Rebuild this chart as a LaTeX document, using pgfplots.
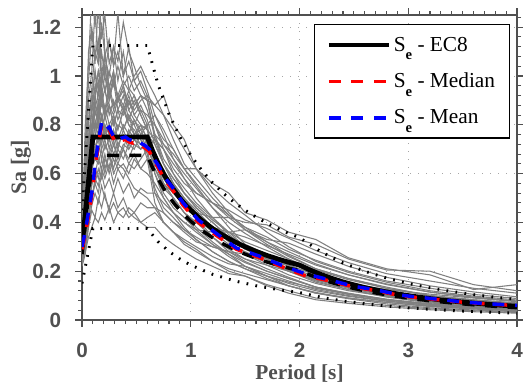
\documentclass[border=0pt]{standalone}
\usepackage{fontspec}
\setmainfont{Liberation Serif}
\newfontfamily\ticksans{Liberation Sans}
\usepackage{pgfplots}
\usepackage{pgfplotstable}
\pgfplotsset{compat=1.18}
\definecolor{axgray}{RGB}{80,80,80}
\definecolor{curvegray}{RGB}{128,128,128}
\newcommand{\Se}{S\raisebox{-6.5pt}{\fontsize{11}{11}\selectfont\bfseries e}}

\pgfplotstableread{
T c1 c2 c3 c4 c5 c6 c7 c8 c9 c10 c11 c12 c13 c14 c15 c16 c17 c18 c19 c20 c21 c22 c23 c24 c25 c26 c27 c28 c29 c30 c31 c32 c33 c34
0.00 0.34 0.32 0.30 0.31 0.29 0.28 0.27 0.26 0.24 0.22 0.28 0.29 0.27 0.25 0.30 0.25 0.23 0.31 0.26 0.28 0.33 0.26 0.30 0.24 0.31 0.27 0.30 0.28 0.29 0.25 0.27 0.32 0.26 0.28
0.03 0.80 0.55 0.58 0.50 0.45 0.42 0.38 0.35 0.30 0.27 0.44 0.40 0.41 0.36 0.52 0.33 0.29 0.50 0.37 0.43 0.66 0.34 0.46 0.28 0.55 0.40 0.48 0.42 0.50 0.32 0.44 0.70 0.36 0.45
0.06 1.05 0.82 0.90 0.70 0.62 0.58 0.52 0.48 0.44 0.38 0.63 0.66 0.55 0.50 0.75 0.45 0.40 0.72 0.52 0.60 0.98 0.46 0.66 0.34 0.80 0.55 0.70 0.60 0.68 0.42 0.62 1.10 0.52 0.66
0.09 1.35 0.95 1.02 0.88 0.74 0.72 0.60 0.58 0.50 0.45 0.70 0.80 0.66 0.62 0.85 0.50 0.47 0.86 0.64 0.68 1.18 0.55 0.78 0.38 0.92 0.62 0.88 0.74 0.80 0.50 0.76 1.20 0.62 0.80
0.12 1.20 1.10 1.28 0.95 0.86 0.74 0.72 0.60 0.56 0.42 0.80 0.78 0.75 0.66 0.92 0.58 0.52 0.96 0.70 0.82 1.05 0.62 0.90 0.42 1.02 0.70 1.02 0.86 0.92 0.56 0.88 1.08 0.70 0.92
0.15 1.40 1.05 1.05 1.02 0.80 0.86 0.68 0.66 0.52 0.50 0.76 0.90 0.82 0.64 0.98 0.55 0.48 0.92 0.76 0.78 1.30 0.58 0.82 0.40 0.88 0.74 0.94 0.80 1.02 0.62 0.84 1.15 0.76 0.86
0.18 1.15 1.22 1.38 0.92 0.90 0.78 0.76 0.62 0.60 0.46 0.84 0.82 0.74 0.70 0.88 0.62 0.55 1.02 0.70 0.84 1.00 0.66 0.95 0.44 0.96 0.66 1.10 0.92 0.96 0.58 0.94 0.98 0.72 1.00
0.21 1.25 1.08 1.10 1.00 0.82 0.84 0.70 0.68 0.54 0.52 0.78 0.88 0.80 0.62 0.95 0.58 0.50 0.94 0.74 0.76 1.10 0.60 0.84 0.41 1.05 0.72 1.00 0.84 1.08 0.66 0.86 1.04 0.80 0.94
0.25 1.05 1.15 0.95 0.90 0.88 0.76 0.74 0.60 0.58 0.44 0.74 0.80 0.70 0.68 0.84 0.64 0.46 0.88 0.66 0.80 0.95 0.68 0.88 0.46 0.90 0.68 1.14 0.94 1.00 0.62 0.96 0.92 0.76 1.02
0.29 1.12 1.05 1.02 0.98 0.80 0.82 0.68 0.66 0.52 0.48 0.76 0.84 0.78 0.60 0.90 0.56 0.52 0.84 0.72 0.74 1.02 0.62 0.80 0.40 0.98 0.74 1.04 0.86 1.12 0.68 0.88 1.00 0.84 0.96
0.33 0.98 1.26 0.90 0.92 0.86 0.74 0.72 0.62 0.58 0.44 0.70 0.78 0.72 0.64 0.82 0.62 0.46 0.90 0.66 0.80 0.90 0.70 0.86 0.44 0.86 0.66 1.10 0.92 1.06 0.64 0.92 0.90 0.78 1.04
0.38 1.10 1.00 0.96 0.98 0.84 0.80 0.70 0.64 0.52 0.46 0.78 0.86 0.76 0.62 0.88 0.58 0.50 0.86 0.70 0.78 0.96 0.66 0.78 0.42 0.92 0.72 1.00 0.88 1.22 0.70 0.86 0.94 0.86 0.96
0.43 0.95 1.12 0.86 0.94 0.90 0.76 0.78 0.60 0.56 0.42 0.72 0.80 0.70 0.58 0.80 0.64 0.44 0.92 0.64 0.84 0.88 0.72 0.84 0.46 0.82 0.70 1.06 0.94 1.10 0.66 0.90 0.86 0.82 1.00
0.48 0.92 0.98 0.82 1.00 0.86 0.82 0.74 0.66 0.50 0.44 0.76 0.76 0.74 0.54 0.78 0.62 0.42 0.84 0.68 0.80 0.92 0.70 0.76 0.44 0.80 0.74 0.98 0.88 1.04 0.72 0.84 0.90 0.88 0.94
0.54 0.86 0.92 0.76 1.04 0.90 0.78 0.80 0.62 0.54 0.40 0.72 0.78 0.70 0.52 0.74 0.66 0.40 0.88 0.62 0.86 0.84 0.76 0.80 0.48 0.74 0.72 1.02 0.92 0.96 0.70 0.80 0.84 0.92 0.98
0.60 0.80 0.90 0.70 0.98 0.92 0.80 0.78 0.66 0.52 0.42 0.70 0.72 0.74 0.50 0.68 0.70 0.38 0.82 0.60 0.84 0.78 0.80 0.74 0.46 0.66 0.76 0.94 0.86 0.90 0.74 0.74 0.78 0.90 0.92
0.67 0.62 0.76 0.54 0.92 0.88 0.80 0.74 0.64 0.52 0.44 0.64 0.62 0.68 0.46 0.52 0.74 0.38 0.72 0.56 0.80 0.66 0.84 0.60 0.46 0.48 0.72 0.84 0.76 0.74 0.76 0.60 0.66 0.88 0.80
0.75 0.54 0.66 0.46 0.84 0.92 0.74 0.70 0.56 0.48 0.40 0.58 0.56 0.60 0.40 0.44 0.70 0.34 0.64 0.50 0.72 0.58 0.78 0.52 0.44 0.40 0.64 0.76 0.64 0.64 0.72 0.50 0.56 0.84 0.70
0.84 0.50 0.60 0.42 0.74 0.80 0.70 0.62 0.52 0.44 0.36 0.52 0.50 0.56 0.36 0.40 0.64 0.31 0.58 0.44 0.66 0.52 0.70 0.46 0.40 0.36 0.58 0.66 0.56 0.56 0.68 0.44 0.50 0.78 0.60
0.94 0.44 0.54 0.37 0.64 0.74 0.62 0.56 0.48 0.40 0.32 0.47 0.44 0.50 0.33 0.36 0.58 0.28 0.52 0.40 0.60 0.47 0.62 0.42 0.37 0.31 0.52 0.58 0.50 0.48 0.62 0.38 0.44 0.70 0.52
1.05 0.40 0.48 0.33 0.58 0.62 0.62 0.52 0.44 0.36 0.29 0.42 0.40 0.45 0.30 0.32 0.52 0.25 0.47 0.37 0.54 0.42 0.55 0.37 0.34 0.28 0.46 0.50 0.44 0.42 0.56 0.33 0.38 0.62 0.46
1.20 0.34 0.42 0.28 0.50 0.54 0.56 0.48 0.42 0.31 0.24 0.37 0.38 0.38 0.26 0.30 0.48 0.22 0.41 0.36 0.46 0.36 0.46 0.31 0.30 0.24 0.40 0.42 0.38 0.34 0.48 0.28 0.32 0.52 0.40
1.35 0.29 0.36 0.24 0.43 0.48 0.52 0.45 0.42 0.26 0.20 0.33 0.36 0.32 0.23 0.28 0.43 0.19 0.36 0.36 0.38 0.31 0.40 0.27 0.28 0.21 0.34 0.35 0.33 0.28 0.42 0.24 0.27 0.44 0.34
1.50 0.25 0.30 0.21 0.38 0.43 0.44 0.41 0.40 0.22 0.18 0.295 0.34 0.27 0.22 0.27 0.38 0.18 0.32 0.37 0.31 0.28 0.355 0.235 0.25 0.19 0.295 0.30 0.30 0.24 0.37 0.21 0.22 0.37 0.29
1.70 0.21 0.25 0.17 0.32 0.36 0.41 0.375 0.39 0.18 0.14 0.26 0.305 0.225 0.19 0.235 0.34 0.145 0.285 0.33 0.27 0.24 0.30 0.20 0.225 0.165 0.255 0.25 0.26 0.20 0.32 0.18 0.18 0.31 0.25
1.90 0.175 0.21 0.14 0.265 0.30 0.36 0.335 0.34 0.14 0.11 0.225 0.27 0.185 0.16 0.20 0.29 0.12 0.25 0.315 0.20 0.20 0.25 0.17 0.20 0.14 0.22 0.205 0.225 0.17 0.28 0.155 0.15 0.26 0.21
2.15 0.135 0.165 0.11 0.21 0.24 0.33 0.285 0.31 0.11 0.083 0.185 0.225 0.15 0.125 0.165 0.245 0.09 0.205 0.27 0.155 0.16 0.195 0.135 0.17 0.113 0.175 0.165 0.185 0.135 0.23 0.13 0.12 0.21 0.17
2.45 0.11 0.135 0.09 0.17 0.195 0.255 0.235 0.25 0.087 0.068 0.15 0.185 0.12 0.10 0.135 0.20 0.075 0.165 0.22 0.125 0.125 0.152 0.105 0.15 0.09 0.135 0.13 0.15 0.108 0.185 0.105 0.097 0.17 0.135
2.80 0.085 0.108 0.072 0.135 0.155 0.21 0.19 0.205 0.066 0.054 0.12 0.148 0.096 0.078 0.108 0.16 0.06 0.13 0.175 0.097 0.094 0.116 0.082 0.125 0.072 0.102 0.10 0.118 0.085 0.145 0.082 0.077 0.13 0.106
3.20 0.064 0.083 0.055 0.10 0.12 0.185 0.16 0.20 0.05 0.042 0.092 0.115 0.074 0.06 0.083 0.13 0.046 0.10 0.14 0.074 0.07 0.088 0.064 0.106 0.057 0.078 0.078 0.092 0.067 0.114 0.064 0.06 0.10 0.083
3.60 0.053 0.068 0.045 0.083 0.098 0.125 0.13 0.145 0.041 0.034 0.075 0.094 0.06 0.049 0.068 0.105 0.038 0.083 0.115 0.06 0.056 0.071 0.052 0.09 0.046 0.064 0.064 0.075 0.055 0.092 0.052 0.049 0.08 0.068
4.00 0.044 0.056 0.037 0.07 0.082 0.145 0.11 0.12 0.034 0.028 0.062 0.078 0.05 0.04 0.056 0.088 0.031 0.068 0.095 0.05 0.046 0.058 0.043 0.075 0.038 0.053 0.053 0.062 0.045 0.077 0.043 0.04 0.066 0.056
}\grays

\begin{document}
\begin{tikzpicture}
\useasboundingbox (0,0) rectangle (392.25pt,287.25pt);
\begin{axis}[
  at={(61.5pt,47.25pt)}, anchor=south west,
  scale only axis, width=326.25pt, height=228.75pt,
  xmin=0, xmax=4, ymin=0, ymax=1.25,
  xtick={0,1,2,3,4}, xticklabels={0,1,2,3,4},
  ytick={0,0.2,0.4,0.6,0.8,1,1.2}, yticklabels={0,0.2,0.4,0.6,0.8,1,1.2},
  minor xtick={0,0.1,...,4.01},
  minor ytick={0,0.04,...,1.25},
  xtick pos=both, ytick pos=both,
  xticklabel pos=bottom, yticklabel pos=left,
  tick align=outside,
  major tick length=5pt, minor tick length=3pt,
  every tick/.style={line width=0.8pt, draw=axgray},
  axis line style={line width=1pt, draw=axgray},
  grid=major,
  major grid style={line width=0.7pt, draw=gray!70, dash pattern=on 0.7pt off 5.3pt},
  xticklabel style={font=\ticksans\bfseries\fontsize{15.5}{16}\selectfont, text=axgray, inner sep=0pt, anchor=north},
  yticklabel style={font=\ticksans\bfseries\fontsize{15.5}{16}\selectfont, text=axgray, inner sep=0pt, anchor=east},
  xticklabel shift=12pt,
  yticklabel shift=10.5pt,
  xlabel={Period [s]}, ylabel={Sa [g]},
  xlabel style={font=\bfseries\fontsize{16}{18}\selectfont, text=axgray, inner sep=0pt, at={(axis description cs:0.5,0)}, anchor=center, yshift=-40.5pt},
  ylabel style={font=\bfseries\fontsize{16.5}{18}\selectfont, text=axgray, inner sep=0pt, at={(axis description cs:0,0.5)}, anchor=center, yshift=45.75pt},
  legend image code/.code={\draw[#1] (0pt,0pt) -- (45pt,0pt);},
  legend cell align=left,
  legend style={at={(rel axis cs:0.985,0.970)}, anchor=north east, draw=black, line width=1pt, fill=white,
    font=\fontsize{16}{18}\selectfont, text=black, row sep=11pt, inner xsep=9pt, inner ysep=7pt},
]
\pgfplotsinvokeforeach{1,...,34}{
  \addplot[curvegray, line width=0.8pt, forget plot] table[x=T, y=c#1] {\grays};
}
% 1.5 x EC8 and 0.5 x EC8 bounds
\addplot[black, line width=2.2pt, dash pattern=on 1.3pt off 5.5pt, forget plot] coordinates {
(0,0.45)(0.1,1.125)(0.6,1.125)(0.7,0.964)(0.8,0.844)(0.9,0.75)(1.0,0.675)(1.1,0.614)(1.2,0.5625)(1.3,0.519)(1.4,0.482)(1.5,0.45)(1.6,0.422)(1.7,0.397)(1.8,0.375)(1.9,0.355)(2.0,0.3375)(2.2,0.279)(2.4,0.234)(2.6,0.2)(2.8,0.172)(3.0,0.15)(3.2,0.132)(3.4,0.1168)(3.6,0.104)(3.8,0.0935)(4.0,0.0844)};
\addplot[black, line width=2.2pt, dash pattern=on 1.3pt off 5.5pt, forget plot] coordinates {
(0,0.15)(0.1,0.375)(0.6,0.375)(0.7,0.321)(0.8,0.281)(0.9,0.25)(1.0,0.225)(1.2,0.1875)(1.4,0.1607)(1.6,0.1406)(1.8,0.125)(2.0,0.1125)(2.2,0.093)(2.4,0.078)(2.6,0.0666)(2.8,0.0574)(3.0,0.05)(3.2,0.044)(3.4,0.0389)(3.6,0.0347)(3.8,0.0312)(4.0,0.0281)};
% 0.9 x EC8
\addplot[black, line width=2.6pt, dash pattern=on 9pt off 8pt, forget plot] coordinates {
(0,0.27)(0.1,0.675)(0.6,0.675)(0.65,0.623)(0.7,0.579)(0.75,0.54)(0.8,0.506)(0.85,0.476)(0.9,0.45)(0.95,0.426)(1.0,0.405)(1.1,0.368)(1.2,0.3375)(1.3,0.3115)(1.4,0.289)(1.5,0.27)(1.6,0.253)(1.7,0.238)(1.8,0.225)(1.9,0.213)(2.0,0.2025)(2.1,0.1837)(2.2,0.1674)(2.3,0.1531)(2.4,0.1406)(2.5,0.1296)(2.6,0.1198)(2.7,0.1111)(2.8,0.1033)(2.9,0.0963)(3.0,0.09)(3.2,0.0791)(3.4,0.0701)(3.6,0.0625)(3.8,0.0561)(4.0,0.0506)};
% EC8
\addplot[black, line width=3.6pt] coordinates {
(0,0.3)(0.1,0.75)(0.6,0.75)(0.65,0.6923)(0.7,0.643)(0.75,0.6)(0.8,0.5625)(0.85,0.5294)(0.9,0.5)(0.95,0.4737)(1.0,0.45)(1.1,0.4091)(1.2,0.375)(1.3,0.3462)(1.4,0.3214)(1.5,0.3)(1.6,0.28125)(1.7,0.2647)(1.8,0.25)(1.9,0.2368)(2.0,0.225)(2.1,0.2041)(2.2,0.186)(2.3,0.1701)(2.4,0.156)(2.5,0.144)(2.6,0.133)(2.7,0.1235)(2.8,0.115)(2.9,0.107)(3.0,0.1)(3.1,0.0937)(3.2,0.0879)(3.3,0.0826)(3.4,0.0779)(3.5,0.0735)(3.6,0.0694)(3.7,0.0657)(3.8,0.0623)(3.9,0.0592)(4.0,0.05625)};
\addlegendentry{\Se\ - EC8}
% Median
\addplot[red, line width=2.6pt, dash pattern=on 9pt off 8pt] coordinates {
(0,0.29)(0.02,0.33)(0.04,0.375)(0.07,0.455)(0.1,0.54)(0.12,0.625)(0.15,0.715)(0.18,0.795)(0.2,0.79)(0.22,0.77)(0.25,0.78)(0.27,0.76)(0.3,0.735)(0.33,0.725)(0.36,0.735)(0.4,0.74)(0.43,0.73)(0.47,0.725)(0.5,0.73)(0.54,0.715)(0.58,0.705)(0.62,0.69)(0.67,0.645)(0.7,0.625)(0.76,0.575)(0.83,0.535)(0.93,0.47)(1.07,0.40)(1.25,0.342)(1.42,0.29)(1.63,0.256)(1.85,0.216)(2.05,0.182)(2.28,0.16)(2.5,0.135)(2.71,0.12)(2.93,0.1)(3.08,0.092)(3.28,0.083)(3.5,0.073)(3.72,0.066)(4.0,0.059)};
\addlegendentry{\Se\ - Median}
% Mean
\addplot[blue, line width=2.6pt, dash pattern=on 9pt off 8pt] coordinates {
(0,0.3)(0.02,0.34)(0.04,0.39)(0.07,0.47)(0.1,0.55)(0.12,0.64)(0.15,0.73)(0.18,0.81)(0.2,0.80)(0.22,0.78)(0.25,0.79)(0.27,0.77)(0.3,0.745)(0.33,0.735)(0.36,0.745)(0.4,0.75)(0.43,0.74)(0.47,0.735)(0.5,0.74)(0.54,0.725)(0.58,0.715)(0.62,0.70)(0.67,0.655)(0.7,0.635)(0.76,0.585)(0.83,0.545)(0.93,0.48)(1.07,0.41)(1.25,0.35)(1.42,0.295)(1.63,0.262)(1.85,0.222)(2.05,0.19)(2.28,0.164)(2.5,0.138)(2.71,0.123)(2.93,0.102)(3.08,0.094)(3.28,0.085)(3.5,0.074)(3.72,0.067)(4.0,0.06)};
\addlegendentry{\Se\ - Mean}
\end{axis}
\end{tikzpicture}
\end{document}
